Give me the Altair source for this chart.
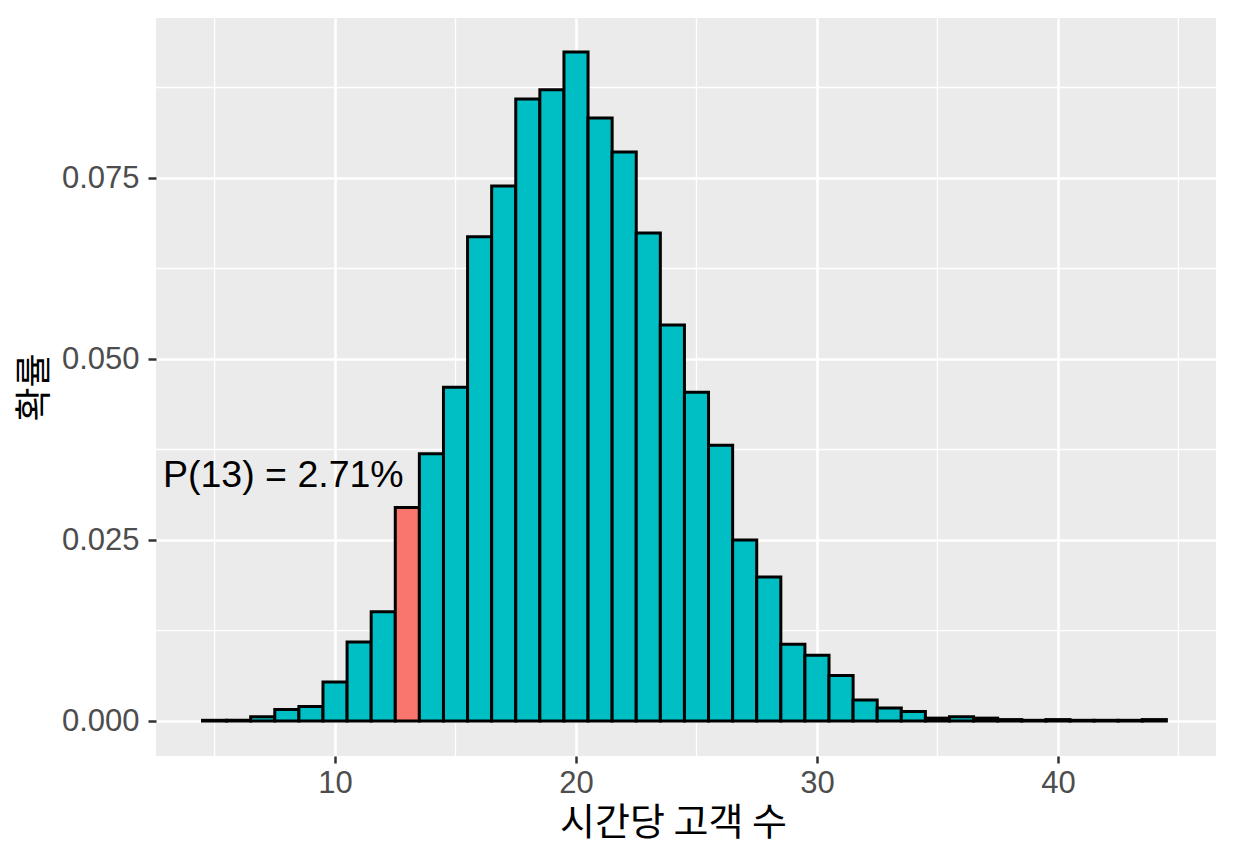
import altair as alt
import pandas as pd

# customers per hour (k) and observed probability
k_values = list(range(5, 45))
probs = [
    0.0001, 0.0001, 0.0006, 0.0016, 0.0020, 0.0054, 0.0109, 0.0151, 0.0295, 0.0369,
    0.0461, 0.0669, 0.0739, 0.0859, 0.0872, 0.0924, 0.0833, 0.0786, 0.0674, 0.0547,
    0.0454, 0.0381, 0.0250, 0.0199, 0.0106, 0.0091, 0.0063, 0.0029, 0.0018, 0.0013,
    0.0004, 0.0006, 0.0004, 0.0002, 0.0001, 0.0002, 0.0001, 0.0001, 0.0001, 0.0002,
]
highlight_k = 13

x_major = [10, 20, 30, 40]
x_minor = [5, 15, 25, 35, 45]
y_major = [0.0, 0.025, 0.05, 0.075]
y_minor = [0.0125, 0.0375, 0.0625, 0.0875]

ann_x = [12.85]
ann_y = [0.0338]
ann_label = ["P(13) = 2.71%"]

x_title = "시간당 고객 수"
y_title = "확률"

df = pd.DataFrame({"k": k_values, "p": probs})
ann = pd.DataFrame({"x": ann_x, "y": ann_y, "label": ann_label})
gx = pd.DataFrame({"v": x_minor})
gy = pd.DataFrame({"v": y_minor})

xscale = alt.Scale(domain=[2.57, 46.56], nice=False, zero=False)
yscale = alt.Scale(domain=[-0.00483, 0.0971], nice=False, zero=False)

major_x_axis = alt.Axis(orient="bottom", values=x_major, grid=True, gridColor="white",
                        gridWidth=2.6, domain=False, tickSize=7, tickWidth=2.5,
                        tickColor="#333333", labelFont="Liberation Sans", labelFontSize=31,
                        labelColor="#4D4D4D", labelPadding=5, title=x_title,
                        titleFont="Noto Sans CJK KR", titleFontSize=38,
                        titleFontWeight="normal", titleColor="black", titlePadding=6,
                        titleX=517)
major_y_axis = alt.Axis(orient="left", values=y_major, format=".3f", grid=True,
                        gridColor="white", gridWidth=2.6, domain=False, tickSize=8,
                        tickWidth=2.5, tickColor="#333333", labelFont="Liberation Sans",
                        labelFontSize=31, labelColor="#4D4D4D", labelPadding=9,
                        title=y_title, titleFont="Noto Sans CJK KR", titleFontSize=37,
                        titleFontWeight="normal", titleColor="black", titlePadding=7)

minor_x = alt.Chart(gx).mark_rule(color="white", strokeWidth=1.3).encode(
    x=alt.X("v:Q", scale=xscale, axis=major_x_axis)
)
minor_y = alt.Chart(gy).mark_rule(color="white", strokeWidth=1.3).encode(
    y=alt.Y("v:Q", scale=yscale, axis=major_y_axis)
)

bars = alt.Chart(df).transform_calculate(
    lo="datum.k - 0.5", hi="datum.k + 0.5"
).mark_bar(stroke="black", strokeWidth=3).encode(
    x=alt.X("lo:Q", scale=xscale, axis=major_x_axis),
    x2="hi:Q",
    y=alt.Y("p:Q", scale=yscale, axis=major_y_axis),
    y2=alt.datum(0),
    fill=alt.when(alt.datum.k == highlight_k).then(alt.value("#F8766D")).otherwise(alt.value("#00BFC4")),
)

text = alt.Chart(ann).mark_text(align="right", baseline="middle", font="Liberation Sans",
                                fontSize=37.5, color="black").encode(
    x=alt.X("x:Q", scale=xscale, axis=major_x_axis),
    y=alt.Y("y:Q", scale=yscale, axis=major_y_axis),
    text="label:N",
)

chart = alt.layer(minor_x, minor_y, bars, text).properties(
    width=1060, height=738,
    autosize=alt.AutoSizeParams(type="none"),
    padding={"left": 148, "top": 10, "right": 10, "bottom": 90},
).configure(background="white").configure_view(fill="#EBEBEB", stroke=None)

chart.save("out.html", embed_options={"renderer": "svg", "actions": False})
